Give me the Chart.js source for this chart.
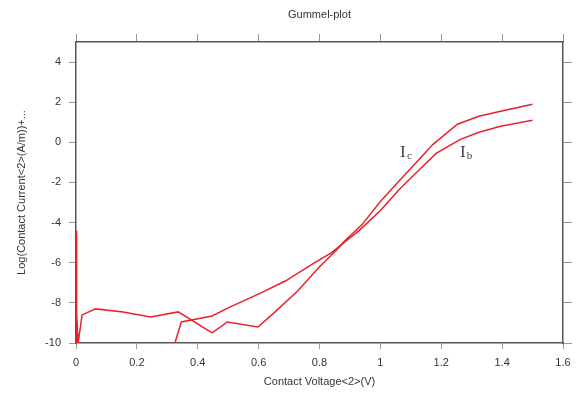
<!DOCTYPE html>
<html>
<head>
<meta charset="utf-8">
<script src="https://cdn.jsdelivr.net/npm/chart.js@4.4.1/dist/chart.umd.min.js"></script>
<style>
  html, body { margin: 0; padding: 0; background: #fff; }
  #wrap { width: 585px; height: 395px; }
</style>
</head>
<body>
<div id="wrap"><canvas id="chart"></canvas></div>
<script>
// collector current, log scale
const icVoltage = [0, 0.001, 0.003, 0.007, 0.02, 0.064, 0.155, 0.245, 0.336, 0.447, 0.497, 0.598, 0.654, 0.729, 0.8, 0.86, 0.88, 0.94, 1.0, 1.06, 1.13, 1.173, 1.253, 1.324, 1.395, 1.5]
const icLog = [-4.4, -10.6, -8.5, -10.0, -8.6, -8.3, -8.45, -8.7, -8.45, -9.5, -8.95, -9.2, -8.45, -7.4, -6.2, -5.3, -4.95, -4.1, -2.95, -1.95, -0.8, -0.1, 0.9, 1.3, 1.55, 1.9]

// base current, log scale
const ibVoltage = [0.313, 0.346, 0.447, 0.507, 0.608, 0.689, 0.779, 0.84, 0.88, 0.93, 1.0, 1.062, 1.132, 1.183, 1.263, 1.324, 1.395, 1.5]
const ibLog = [-10.6, -8.95, -8.65, -8.2, -7.5, -6.9, -6.05, -5.5, -5.0, -4.4, -3.4, -2.35, -1.3, -0.55, 0.15, 0.5, 0.8, 1.1]

// curve labels: main letter, subscript, and where they sit (data units)
const curveLabels = [
    { main: "I", sub: "c", x: 1.074, y: -0.5 },
    { main: "I", sub: "b", x: 1.271, y: -0.5 },
]

const xTicks = [0, 0.2, 0.4, 0.6, 0.8, 1, 1.2, 1.4, 1.6]
const yTicks = [-10, -8, -6, -4, -2, 0, 2, 4]

const toPoints = (xs, ys) => xs.map((x, i) => ({ x: x, y: ys[i] }))

const RED = "#e8212b"
const AXIS = "#555"
const TICK = "#9a9a9a"
const TEXT = "#333"
const FONT = "'Liberation Sans', Arial, sans-serif"

// draws the I_c / I_b labels next to the curves
const labelPlugin = {
    id: "curveLabels",
    afterDatasetsDraw(chart) {
        const ctx = chart.ctx
        const xs = chart.scales.x
        const ys = chart.scales.y
        ctx.save()
        ctx.fillStyle = "#444"
        ctx.textBaseline = "middle"
        curveLabels.forEach((l) => {
            const px = xs.getPixelForValue(l.x)
            const py = ys.getPixelForValue(l.y)
            ctx.font = "17px 'Liberation Serif', 'DejaVu Serif', serif"
            ctx.textAlign = "center"
            ctx.fillText(l.main, px, py)
            ctx.font = "11px 'Liberation Serif', 'DejaVu Serif', serif"
            ctx.textAlign = "left"
            ctx.fillText(l.sub, px + 4, py + 4)
        })
        ctx.restore()
    },
}

const keepTicks = (list) => (scale) => {
    scale.ticks = list.map((v) => ({ value: v }))
}

// plain number labels: "1" not "1.0"
const plainLabel = (v) => String(Math.round(v * 10) / 10)

const tickFont = { family: FONT, size: 11 }

new Chart(document.getElementById("chart"), {
    type: "scatter",
    data: {
        datasets: [
            {
                label: "Ic",
                data: toPoints(icVoltage, icLog),
                showLine: true,
                borderColor: RED,
                borderWidth: 1.5,
                pointRadius: 0,
                clip: { left: 3, top: 0, right: 0, bottom: 0 },
            },
            {
                label: "Ib",
                data: toPoints(ibVoltage, ibLog),
                showLine: true,
                borderColor: RED,
                borderWidth: 1.5,
                pointRadius: 0,
                clip: { left: 3, top: 0, right: 0, bottom: 0 },
            },
        ],
    },
    options: {
        responsive: true,
        maintainAspectRatio: false,
        animation: false,
        layout: { padding: 0 },
        plugins: {
            legend: { display: false },
            tooltip: { enabled: false },
        },
        scales: {
            x: {
                type: "linear",
                position: "bottom",
                min: 0,
                max: 1.6,
                afterBuildTicks: keepTicks(xTicks),
                afterFit: (s) => { s.height = 52 },
                grid: { drawOnChartArea: false, drawTicks: true, tickLength: 6, color: TICK },
                border: { color: AXIS, width: 1.5 },
                ticks: { color: TEXT, font: tickFont, padding: 7, maxRotation: 0, callback: plainLabel },
                title: {
                    display: true,
                    text: "Contact Voltage<2>(V)",
                    color: TEXT,
                    font: { family: FONT, size: 11 },
                    padding: { top: 0, bottom: 6 },
                },
            },
            x2: {
                type: "linear",
                position: "top",
                min: 0,
                max: 1.6,
                afterBuildTicks: keepTicks(xTicks),
                afterFit: (s) => { s.height = 42 },
                grid: { drawOnChartArea: false, drawTicks: true, tickLength: 8, color: TICK },
                border: { color: AXIS, width: 1.5 },
                ticks: { display: false },
                title: {
                    display: true,
                    text: "Gummel-plot",
                    color: TEXT,
                    font: { family: FONT, size: 11 },
                    padding: { top: 8, bottom: 0 },
                },
            },
            y: {
                type: "linear",
                position: "left",
                min: -10,
                max: 5,
                afterBuildTicks: keepTicks(yTicks),
                afterFit: (s) => { s.width = 76 },
                grid: { drawOnChartArea: false, drawTicks: true, tickLength: 7, color: TICK },
                border: { color: AXIS, width: 1.5 },
                ticks: { color: TEXT, font: tickFont, padding: 8, callback: plainLabel },
                title: {
                    display: true,
                    text: "Log(Contact Current<2>(A/m))+...",
                    color: TEXT,
                    font: { family: FONT, size: 11 },
                    padding: { top: 15, bottom: 0 },
                },
            },
            y2: {
                type: "linear",
                position: "right",
                min: -10,
                max: 5,
                afterBuildTicks: keepTicks(yTicks),
                afterFit: (s) => { s.width = 22 },
                grid: { drawOnChartArea: false, drawTicks: true, tickLength: 9, color: TICK },
                border: { color: AXIS, width: 1.5 },
                ticks: { display: false },
            },
        },
    },
    plugins: [labelPlugin],
})
</script>
</body>
</html>
